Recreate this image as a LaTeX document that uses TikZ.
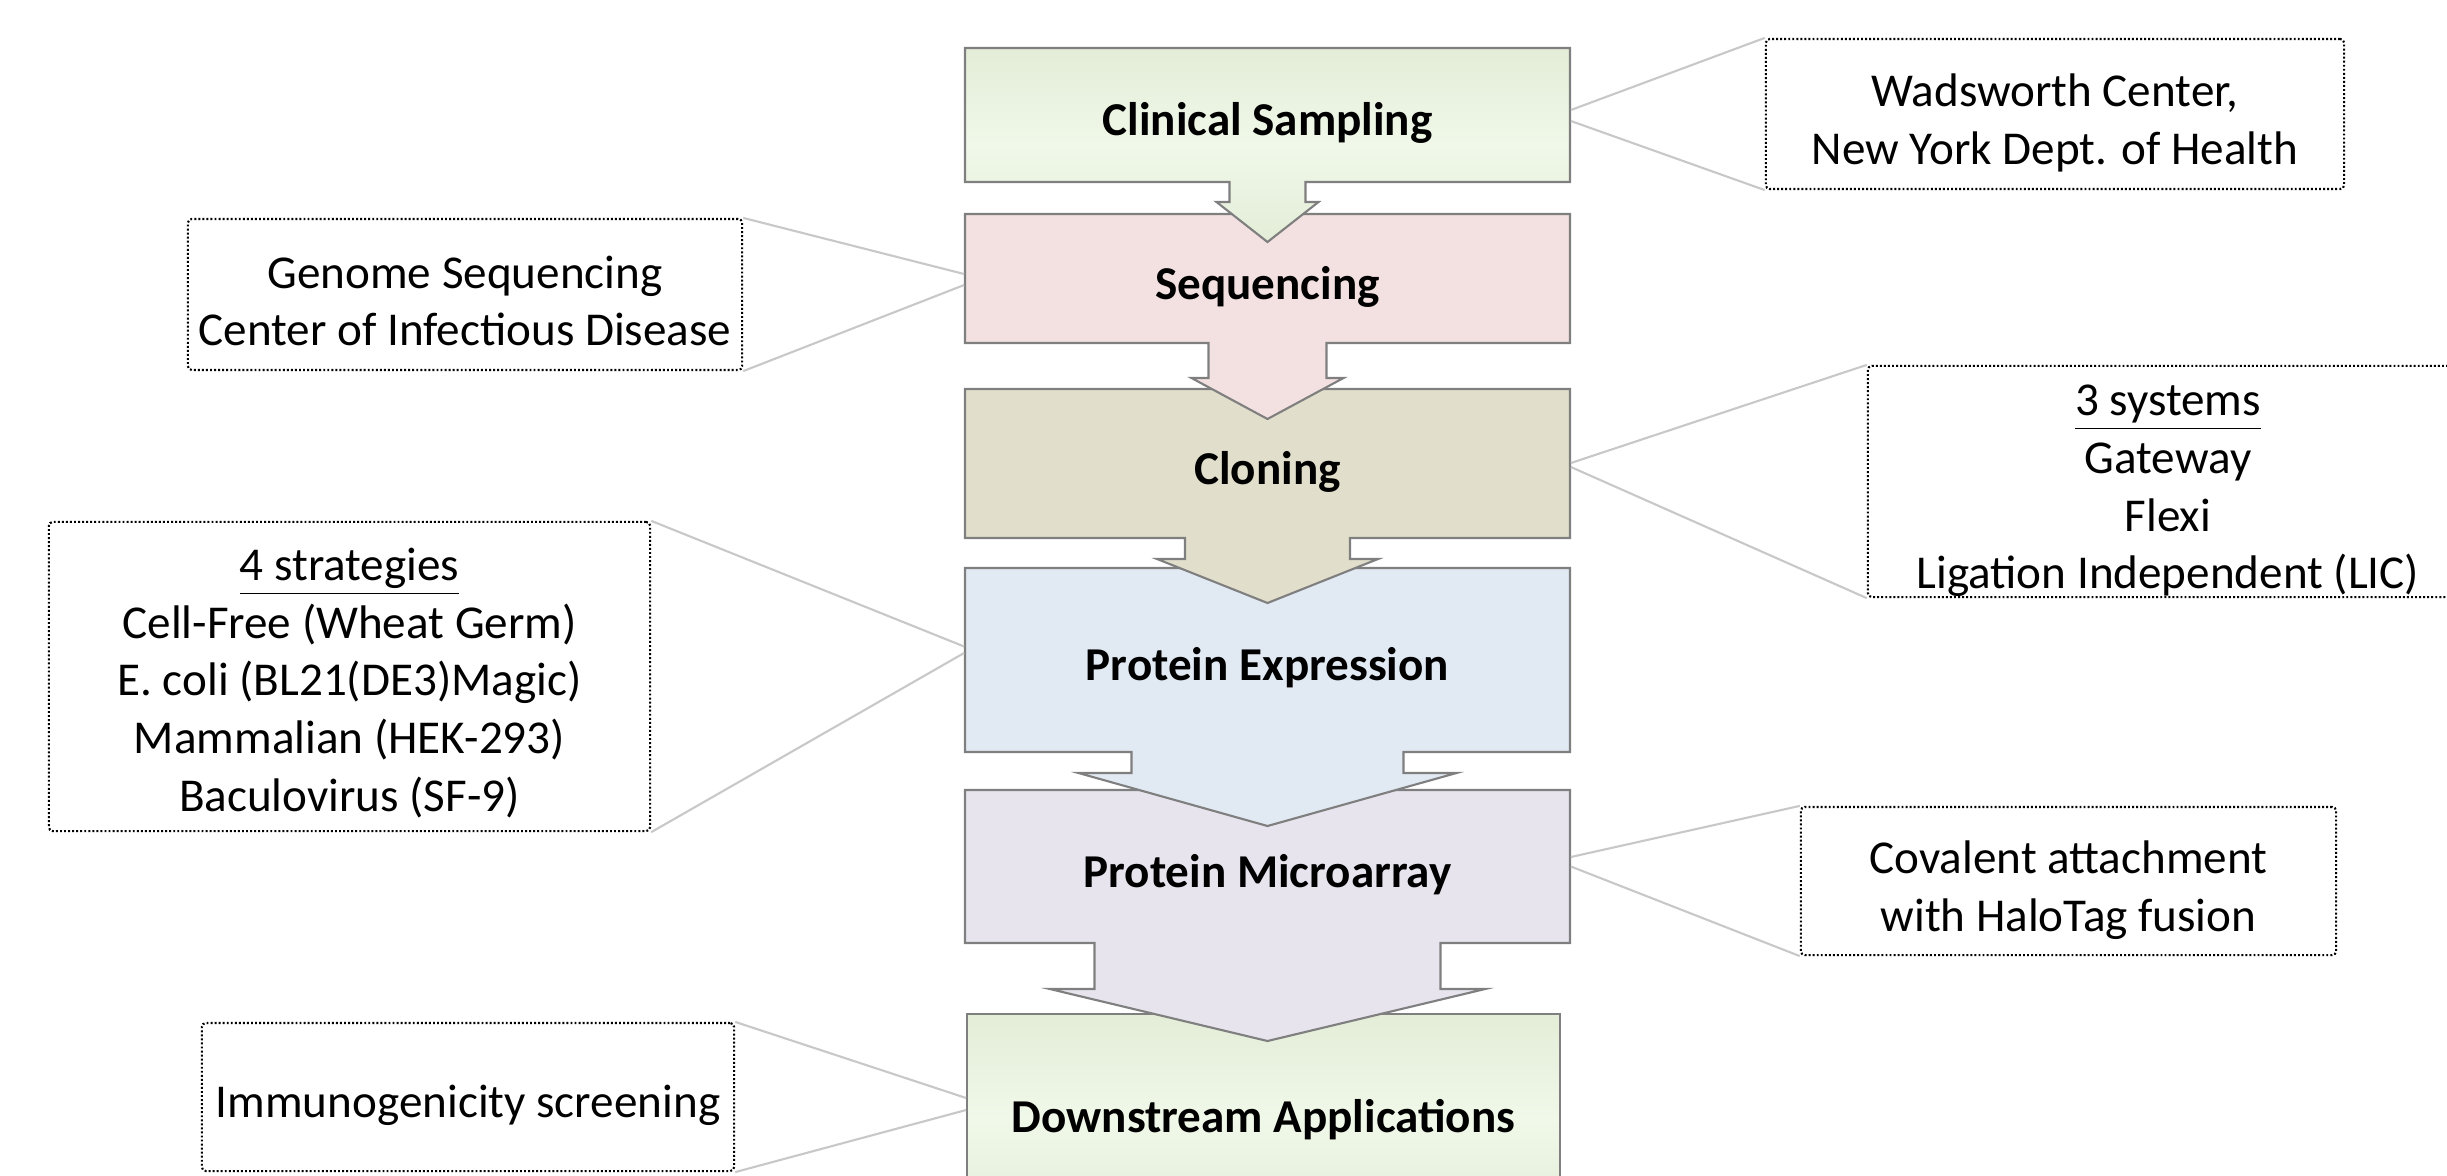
\documentclass[tikz,border=0pt]{standalone}
\usepackage{fontspec}
\setmainfont{Carlito}
\usetikzlibrary{calc}
\definecolor{steplinec}{HTML}{7F7F7F}
\definecolor{connlinec}{HTML}{C8C8C8}
\definecolor{fseq}{HTML}{F2E1E0}
\definecolor{fclo}{HTML}{E1DECB}
\definecolor{fpe}{HTML}{E1E9F3}
\definecolor{fpm}{HTML}{E7E4EE}
\definecolor{gtop}{HTML}{E3EDD7}
\definecolor{gmid}{HTML}{F0F8E9}
\tikzset{
  stepoutline/.style={draw=steplinec, line width=0.6pt, line join=miter},
  stepframe/.style={inner sep=0pt},
  steplabel/.style={font=\fontsize{13.4}{16.4}\selectfont\bfseries, inner sep=0pt, align=center},
  calloutbox/.style={draw=black, line width=0.6pt, dash pattern=on 0.55pt off 0.6pt,
    rounded corners=0.04cm, inner sep=0pt},
  callouttext/.style={align=center, font=\fontsize{13.4}{16.4}\selectfont, inner sep=0pt},
  conn/.style={draw=connlinec, line width=0.6pt},
}
\newcommand{\stepshape}[7]{%
  \path[stepoutline,#7] (965,#1) -- (1570,#1) -- (1570,#2) -- ({1267.5+#3},#2) -- ({1267.5+#3},#4)
    -- ({1267.5+#5},#4) -- (1267.5,#6) -- ({1267.5-#5},#4) -- ({1267.5-#3},#4)
    -- ({1267.5-#3},#2) -- (965,#2) -- cycle;}
\begin{document}
\begin{tikzpicture}[x=0.01cm,y=-0.01cm]
\useasboundingbox (0,0) rectangle (2447,1175);
\clip (0,0) rectangle (2447,1175);
% step shapes, drawn bottom first so each arrow head lies over the next box
\path[stepoutline, top color=gtop, bottom color=gtop, middle color=gmid]
  (967,1014) rectangle (1560,1222);
\stepshape{790}{943}{173}{989}{217.6}{1041}{fill=fpm}
\stepshape{568}{752}{136}{773}{189}{826}{fill=fpe}
\stepshape{389}{538}{82.5}{559}{110.5}{603}{fill=fclo}
\stepshape{214}{343}{59}{378}{76}{419}{fill=fseq}
\stepshape{48}{182}{38}{202}{51}{242}{top color=gtop, bottom color=gtop, middle color=gmid}
% step frames (for connector ends) and labels
\node[stepframe, minimum width=6.05cm, minimum height=1.34cm] (cs) at (1267.5,115) {};
\node[stepframe, minimum width=6.05cm, minimum height=1.29cm] (seq) at (1267.5,278.5) {};
\node[stepframe, minimum width=6.05cm, minimum height=1.49cm] (clo) at (1267.5,463.5) {};
\node[stepframe, minimum width=6.05cm, minimum height=1.84cm] (pe) at (1267.5,660) {};
\node[stepframe, minimum width=6.05cm, minimum height=1.53cm] (pm) at (1267.5,866.5) {};
\node[stepframe, minimum width=5.93cm, minimum height=2.04cm] (da) at (1263.5,1116) {};
\node[steplabel] (csT) at (1267.5,123) {Clinical Sampling};
\node[steplabel] (seqT) at (1267.5,286.5) {Sequencing};
\node[steplabel] (cloT) at (1267.5,471.5) {Cloning};
\node[steplabel] (peT) at (1267.5,668) {Protein Expression};
\node[steplabel] (pmT) at (1267.5,874.5) {Protein Microarray};
\node[steplabel] (daT) at (1263.5,1120) {Downstream Applications};
% callouts
\node[calloutbox, minimum width=5.78cm, minimum height=1.50cm] (wad) at (2055,114) {};
\node[callouttext] (wadT) at (2055,123) {Wadsworth Center,\\New York Dept. of Health};
\node[calloutbox, minimum width=5.54cm, minimum height=1.51cm] (gen) at (465,294.5) {};
\node[callouttext] (genT) at (465,301) {Genome Sequencing\\Center of Infectious Disease};
\node[calloutbox, minimum width=6.00cm, minimum height=2.31cm] (sys) at (2168,481.5) {};
\node[callouttext] (sysT) at (2168,491) {\underline{3 systems}\\Gateway\\Flexi\\Ligation Independent (LIC)};
\node[calloutbox, minimum width=6.01cm, minimum height=3.09cm] (str) at (349.5,676.5) {};
\node[callouttext] (strT) at (349.5,683) {\underline{4 strategies}\\Cell-Free (Wheat Germ)\\E. coli (BL21(DE3)Magic)\\Mammalian (HEK-293)\\Baculovirus (SF-9)};
\node[calloutbox, minimum width=5.35cm, minimum height=1.48cm] (cov) at (2068.5,881) {};
\node[callouttext] (covT) at (2068.5,890) {Covalent attachment\\with HaloTag fusion};
\node[calloutbox, minimum width=5.32cm, minimum height=1.48cm] (imm) at (468,1097) {};
\node[callouttext] (immT) at (468,1105) {Immunogenicity screening};
% connectors
\draw[conn] (wad.north west) -- ([yshift=0.05cm]cs.east);
\draw[conn] (wad.south west) -- ([yshift=-0.06cm]cs.east);
\draw[conn] (gen.north east) -- ([yshift=0.045cm]seq.west);
\draw[conn] (gen.south east) -- ([yshift=-0.065cm]seq.west);
\draw[conn] (sys.north west) -- ([yshift=0.005cm]clo.east);
\draw[conn] (sys.south west) -- ([yshift=-0.035cm]clo.east);
\draw[conn] (str.north east) -- ([yshift=0.135cm]pe.west);
\draw[conn] (str.south east) -- ([yshift=0.07cm]pe.west);
\draw[conn] (cov.north west) -- ([yshift=0.095cm]pm.east);
\draw[conn] (cov.south west) -- (pm.east);
\draw[conn] (imm.north east) -- ([yshift=0.18cm]da.west);
\draw[conn] (imm.south east) -- ([yshift=0.06cm]da.west);
\end{tikzpicture}
\end{document}
